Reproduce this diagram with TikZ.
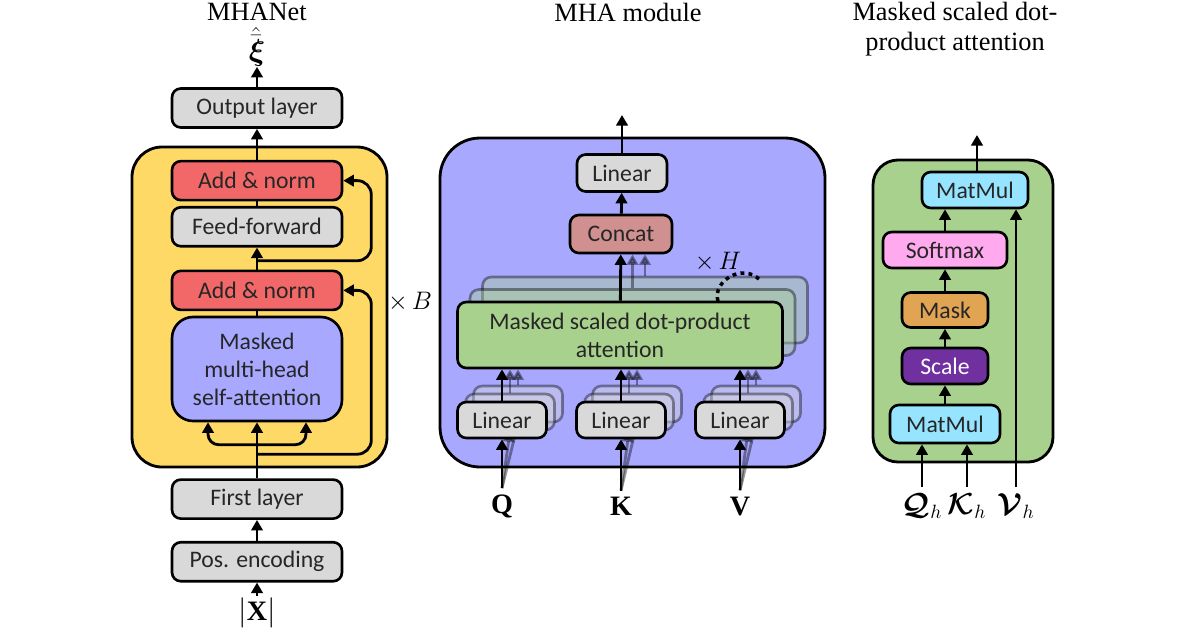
\documentclass[tikz,border=0pt]{standalone}
\usepackage{amsmath,amssymb}
\usepackage{fontspec}
\setmainfont{Liberation Serif}
\setsansfont{Carlito}
\usepackage{tikz}
\usetikzlibrary{arrows.meta,positioning,calc}
\definecolor{blkyellow}{RGB}{255,217,102}
\definecolor{addred}{RGB}{242,104,104}
\definecolor{boxgray}{RGB}{217,217,217}
\definecolor{attblue}{RGB}{168,168,255}
\definecolor{sdpgreen}{RGB}{169,209,142}
\definecolor{catred}{RGB}{208,144,144}
\definecolor{mmblue}{RGB}{150,228,255}
\definecolor{smpink}{RGB}{255,170,238}
\definecolor{masktan}{RGB}{224,164,82}
\definecolor{scpurple}{RGB}{112,48,160}

\begin{document}
\begin{tikzpicture}[x=0.02cm, y=-0.02cm,
    blk/.style={draw, line width=1.5pt, rounded corners=5pt,
                minimum width=3.4cm, minimum height=0.78cm, inner sep=1pt,
                font=\sffamily\fontsize{13.5}{16}\selectfont, text=black!85},
    bgbox/.style={draw, line width=1.6pt},
    arr/.style={-{Triangle[length=6pt,width=6.5pt]}, line width=1.6pt},
    lnk/.style={line width=1.6pt},
    ttl/.style={font=\fontsize{15}{17}\selectfont, align=center},
    lbl/.style={font=\fontsize{16}{18}\selectfont},
    rep/.style={font=\fontsize{13.5}{16}\selectfont},
    ghost/.style={opacity=0.4}
  ]
  \useasboundingbox (0,0) rectangle (1200,630);

  % MHANet
  \node[ttl] (t1) at (257,12) {MHANet};
  \draw[bgbox, fill=blkyellow, rounded corners=0.6cm] (132,147) rectangle (387,467);
  \node[blk, fill=boxgray] (out) at (257,108) {Output layer};
  \node[blk, fill=addred, below=0.62cm of out] (an1) {Add \& norm};
  \node[blk, fill=boxgray, below=0.09cm of an1] (ff) {Feed-forward};
  \node[blk, fill=addred, below=0.44cm of ff] (an2) {Add \& norm};
  \node[blk, fill=attblue, minimum height=2.08cm, rounded corners=12pt,
        align=center, below=0.09cm of an2] (mhsa) {Masked\\multi-head\\self-attention};
  \node[blk, fill=boxgray, below=1.12cm of mhsa] (first) {First layer};
  \node[blk, fill=boxgray, below=0.42cm of first] (pos) {Pos. encoding};
  \node[lbl, inner sep=1pt] (xin) at (257,613) {$|\mathbf{X}|$};
  \node[lbl, inner sep=0pt] (xi) at (257,47) {$\hat{\bar{\boldsymbol{\xi}}}$};
  \node[rep] (nb) at (410,302) {$\times\,B$};

  \coordinate (r1) at ($(ff.south)!0.6!(an2.north)$);
  \coordinate (r2) at ($(mhsa.south)!0.57!(first.north)$);
  \coordinate (br) at ($(mhsa.south)!0.4!(first.north)$);
  \draw[arr] (xin) -- (pos);
  \draw[arr] (pos) -- (first);
  \draw[arr] (first) -- (mhsa);
  \draw[arr, rounded corners=6pt] (br) -| ([xshift=-0.98cm]mhsa.south);
  \draw[arr, rounded corners=6pt] (br) -| ([xshift=0.98cm]mhsa.south);
  \draw[lnk] (mhsa) -- (an2);
  \draw[arr, rounded corners=8pt] (r2) -| ([xshift=0.56cm]an2.east) -- (an2.east);
  \draw[arr] (an2) -- (ff);
  \draw[lnk] (ff) -- (an1);
  \draw[arr, rounded corners=8pt] (r1) -| ([xshift=0.56cm]an1.east) -- (an1.east);
  \draw[arr] (an1) -- (out);
  \draw[arr] (out) -- (xi);

  % MHA module
  \node[ttl] (t2) at (628,12) {MHA module};
  \draw[bgbox, fill=attblue, rounded corners=0.8cm] (440,138) rectangle (825,467);
  \node[blk, fill=boxgray, minimum width=1.8cm, minimum height=0.74cm] (lin) at (622,173) {Linear};
  \node[blk, fill=catred, minimum width=2.04cm, minimum height=0.76cm] (cat) at (621,234) {Concat};
  \coordinate (mout) at (622,115);
  \foreach \k in {2,1}{
    \node[blk, fill=sdpgreen, ghost, minimum width=6.5cm, minimum height=1.32cm]
      (sdpa\k) at (620+12.5*\k, 335-12.5*\k) {};
    \draw[arr, ghost] (sdpa\k.north) -- (sdpa\k.north |- cat.south);
  }
  \node[blk, fill=sdpgreen, minimum width=6.5cm, minimum height=1.32cm, align=center]
    (sdpa) at (620,335) {Masked scaled dot-product\\attention};
  \foreach \n/\x/\lab in {q/502/Q, k/621/K, v/740/V}{
    \node[lbl] (in\n) at (\x,506) {$\mathbf{\lab}$};
    \foreach \k in {2,1}{
      \node[blk, fill=boxgray, ghost, minimum width=1.78cm, minimum height=0.72cm]
        (lin\n\k) at (\x+8*\k, 420-8*\k) {};
      \draw[arr, ghost] (in\n.north) -- (lin\n\k.south);
      \draw[arr, ghost] (lin\n\k.north) -- (lin\n\k.north |- sdpa.south);
    }
    \node[blk, fill=boxgray, minimum width=1.78cm, minimum height=0.72cm] (lin\n) at (\x,420) {Linear};
    \draw[arr] (in\n.north) -- (lin\n);
    \draw[arr] (lin\n) -- (lin\n |- sdpa.south);
  }
  \draw[arr] (sdpa) -- (cat);
  \draw[arr] (cat) -- (lin);
  \draw[arr] (lin) -- (mout);
  \draw[line width=2pt, dash pattern=on 2.2pt off 2.4pt]
    (718,301) .. controls (712,282) and (742,262) .. (760,280);
  \node[rep] (nh) at (718,262) {$\times\,H$};

  % scaled dot-product attention
  \node[ttl] (t3) at (955,29) {Masked scaled dot-\\product attention};
  \draw[bgbox, fill=sdpgreen, rounded corners=0.5cm] (873,160) rectangle (1053,462);
  \node[blk, fill=mmblue, minimum width=2.12cm, minimum height=0.72cm] (mm2) at (975,190) {MatMul};
  \node[blk, fill=smpink, minimum width=2.48cm, minimum height=0.72cm] (soft) at (945,250) {Softmax};
  \node[blk, fill=masktan, minimum width=1.72cm, minimum height=0.7cm] (mask) at (945,310) {Mask};
  \node[blk, fill=scpurple, text=white, minimum width=1.72cm, minimum height=0.72cm] (scale) at (945,366) {Scale};
  \node[blk, fill=mmblue, minimum width=2.2cm, minimum height=0.76cm] (mm1) at (945,424) {MatMul};
  \coordinate (sout) at (977,135);
  \foreach \n/\x/\lab in {qh/922/Q, kh/967/K, vh/1016/V}{
    \node[lbl] (\n) at (\x,506) {$\boldsymbol{\mathcal{\lab}}_h$};
  }
  \draw[arr] (qh.north) -- (qh.north |- mm1.south);
  \draw[arr] (kh.north) -- (kh.north |- mm1.south);
  \draw[arr] (vh.north) -- (vh.north |- mm2.south);
  \draw[arr] (mm1) -- (scale);
  \draw[arr] (scale) -- (mask);
  \draw[arr] (mask) -- (soft);
  \draw[arr] (soft.north) -- (soft.north |- mm2.south);
  \draw[arr] (mm2.north -| sout) -- (sout);
\end{tikzpicture}
\end{document}
